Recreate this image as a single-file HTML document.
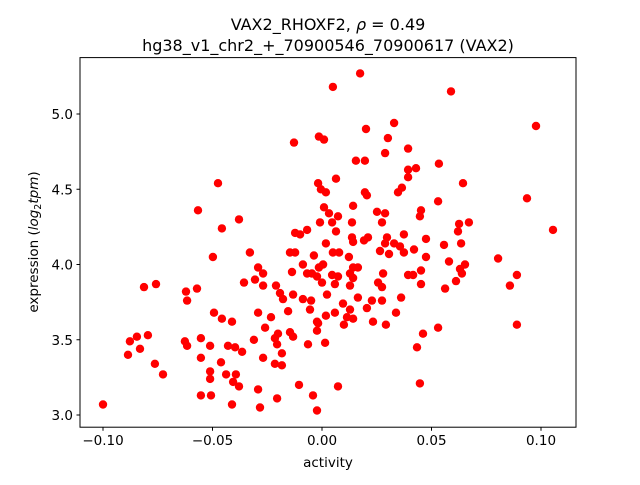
<!DOCTYPE html>
<html><head><meta charset="utf-8"><style>
body{margin:0;background:#fff}
svg text{font-family:"DejaVu Sans","Liberation Sans",sans-serif;fill:#000}
</style></head><body>
<svg id="chart" width="640" height="480" viewBox="0 0 640 480" xmlns="http://www.w3.org/2000/svg">
<rect width="640" height="480" fill="#fff"/>
<text x="328" y="30" font-size="16" text-anchor="middle">VAX2_RHOXF2, <tspan font-style="italic">ρ</tspan> = 0.49</text>
<text x="328" y="51" font-size="16" text-anchor="middle">hg38_v1_chr2_+_70900546_70900617 (VAX2)</text>
<g id="marks"></g>
<rect x="80" y="57.6" width="496" height="369.6" fill="none" stroke="#000" stroke-width="1"/>
<g id="xticks"></g>
<g id="yticks"></g>
<text x="328" y="467" font-size="13.5" text-anchor="middle">activity</text>
<text transform="translate(38,242) rotate(-90)" font-size="13.5" text-anchor="middle">expression (<tspan font-style="italic">log</tspan><tspan font-size="9.5" dy="3">2</tspan><tspan font-style="italic" dy="-3">tpm</tspan>)</text>
</svg>
<script>
const xs=[-0.100,-0.0886,-0.0877,-0.0845,-0.0831,-0.0795,-0.0813,-0.0758,-0.0763,-0.0726,-0.0621,-0.0616,-0.0571,-0.0566,-0.0475,-0.0379,-0.0457,-0.0498,-0.0356,-0.0329,-0.0493,-0.0457,-0.0411,-0.0626,-0.0616,-0.0553,-0.0511,-0.0553,-0.0461,-0.0429,-0.0397,-0.0365,-0.0511,-0.0511,-0.0438,-0.0393,-0.0406,-0.0379,-0.0553,-0.0507,-0.0411,
0.0174,0.0050,0.0201,0.0329,0.0301,0.0288,0.0393,-0.0128,-0.0014,0.0009,0.0155,0.0196,0.0393,0.0393,0.0064,-0.0018,-0.0005,0.0018,0.0196,0.0205,0.0365,0.0347,0.0009,0.0142,0.0032,0.0073,-0.0009,0.0046,0.0137,0.0251,0.0288,0.0274,0.0064,-0.0068,-0.0123,-0.0100,0.0137,0.0142,0.0192,0.0210,0.0297,0.0374,0.0018,0.0288,0.0329,0.0356,-0.0146,-0.0123,-0.0037,0.0050,0.0078,0.0123,0.0265,0.0306,0.0374,
-0.0292,-0.0269,-0.0306,-0.0269,-0.0210,-0.0137,-0.0087,-0.0068,-0.0046,-0.0014,0.0005,-0.0023,0.0000,0.0046,0.0073,0.0059,0.0128,0.0142,0.0164,0.0142,0.0128,0.0279,0.0256,0.0274,0.0393,-0.0192,-0.0178,-0.0132,-0.0087,-0.0050,-0.0055,0.0023,0.0164,0.0228,0.0205,0.0274,0.0361,0.0338,0.0096,0.0128,0.0059,0.0018,0.0114,0.0142,0.0100,-0.0023,-0.0018,-0.0023,0.0233,0.0292,-0.0292,-0.0233,-0.0155,-0.0260,-0.0201,-0.0215,-0.0205,-0.0146,-0.0132,-0.0311,-0.0269,-0.0183,-0.0215,-0.0183,-0.0064,0.0014,-0.0292,-0.0205,-0.0283,-0.0105,-0.0041,-0.0023,0.0073,
0.0589,0.0977,0.0429,0.0534,0.0644,0.0936,0.0530,0.0452,0.0447,0.0626,0.0671,0.0621,0.1055,0.0475,0.0420,0.0557,0.0635,0.0475,0.0804,0.0580,0.0653,0.0630,0.0639,0.0452,0.0416,0.0452,0.0612,0.0562,0.0890,0.0858,0.0530,0.0461,0.0434,0.0890,0.0447];
const ys=[3.07,3.40,3.49,3.52,3.44,3.53,3.85,3.87,3.34,3.27,3.82,3.76,3.84,4.36,4.54,4.30,4.24,4.05,3.88,4.08,3.68,3.64,3.62,3.49,3.46,3.51,3.46,3.38,3.35,3.46,3.45,3.42,3.29,3.24,3.27,3.27,3.22,3.19,3.13,3.13,3.07,
5.27,5.18,4.90,4.94,4.84,4.74,4.77,4.81,4.85,4.83,4.69,4.69,4.63,4.58,4.57,4.54,4.50,4.48,4.48,4.46,4.51,4.48,4.38,4.39,4.34,4.32,4.28,4.28,4.28,4.35,4.34,4.28,4.22,4.23,4.21,4.20,4.18,4.15,4.16,4.18,4.18,4.20,4.14,4.14,4.14,4.12,4.08,4.08,4.06,4.08,4.08,4.05,4.09,4.07,4.08,
3.98,3.94,3.90,3.86,3.86,3.95,4.00,3.94,3.94,3.98,4.00,3.92,3.88,3.93,3.92,3.87,3.94,3.98,3.98,3.91,3.86,3.94,3.88,3.85,3.93,3.81,3.77,3.80,3.77,3.76,3.70,3.80,3.78,3.76,3.71,3.76,3.78,3.68,3.74,3.70,3.68,3.66,3.65,3.64,3.60,3.62,3.61,3.56,3.62,3.60,3.68,3.65,3.69,3.58,3.54,3.51,3.47,3.55,3.52,3.50,3.38,3.41,3.34,3.33,3.47,3.48,3.17,3.11,3.05,3.20,3.13,3.03,3.19,
5.15,4.92,4.64,4.67,4.54,4.44,4.42,4.36,4.32,4.27,4.28,4.22,4.23,4.17,4.10,4.13,4.14,4.05,4.04,4.02,4.00,3.97,3.94,3.96,3.93,3.87,3.89,3.84,3.93,3.86,3.58,3.54,3.45,3.60,3.21];
const xTicks=[-0.10,-0.05,0.00,0.05,0.10];
const xTickLabels=["−0.10","−0.05","0.00","0.05","0.10"];
const yTicks=[3.0,3.5,4.0,4.5,5.0];
const yTickLabels=["3.0","3.5","4.0","4.5","5.0"];
const NS="http://www.w3.org/2000/svg";
const X=v=>322+v*2190;
const Y=v=>415-(v-3)*150.5;
const marks=document.getElementById('marks');
for(let i=0;i<xs.length;i++){
  const c=document.createElementNS(NS,'circle');
  c.setAttribute('cx',X(xs[i]).toFixed(1));
  c.setAttribute('cy',Y(ys[i]).toFixed(1));
  c.setAttribute('r','4.2');
  c.setAttribute('fill','#ff0000');
  
  
  marks.appendChild(c);
}
const xg=document.getElementById('xticks');
xTicks.forEach((t,i)=>{
  const l=document.createElementNS(NS,'line');
  l.setAttribute('x1',X(t));l.setAttribute('x2',X(t));
  l.setAttribute('y1',427.2);l.setAttribute('y2',430.7);
  l.setAttribute('stroke','#000');
  
  
  xg.appendChild(l);
  const tx=document.createElementNS(NS,'text');
  tx.setAttribute('x',X(t));tx.setAttribute('y',445);
  tx.setAttribute('font-size','13.5');tx.setAttribute('text-anchor','middle');
  
  
  tx.textContent=xTickLabels[i];
  xg.appendChild(tx);
});
const yg=document.getElementById('yticks');
yTicks.forEach((t,i)=>{
  const l=document.createElementNS(NS,'line');
  l.setAttribute('x1',76.5);l.setAttribute('x2',80);
  l.setAttribute('y1',Y(t));l.setAttribute('y2',Y(t));
  l.setAttribute('stroke','#000');
  
  
  yg.appendChild(l);
  const tx=document.createElementNS(NS,'text');
  tx.setAttribute('x',73);tx.setAttribute('y',Y(t)+5);
  tx.setAttribute('font-size','13.5');tx.setAttribute('text-anchor','end');
  
  
  tx.textContent=yTickLabels[i];
  yg.appendChild(tx);
});
</script>
</body></html>
